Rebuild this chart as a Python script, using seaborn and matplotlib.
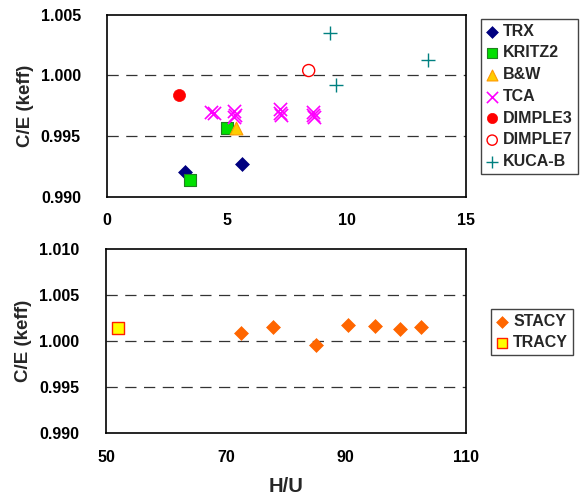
import matplotlib
matplotlib.use("Agg")
import matplotlib.pyplot as plt
import seaborn as sns

# ---- data ----
trx_x = [3.26, 5.61]
trx_y = [0.9920, 0.9927]
kritz2_x = [3.44, 5.00]
kritz2_y = [0.9914, 0.9957]
bw_x = [5.36]
bw_y = [0.9957]
tca_x = [4.35, 4.45, 5.30, 5.30, 5.35, 7.20, 7.20, 7.25, 8.60, 8.60, 8.65]
tca_y = [0.9970, 0.9969, 0.9971, 0.9966, 0.9967, 0.9972, 0.9969, 0.9967, 0.9970, 0.9967, 0.9966]
dimple3_x = [2.98]
dimple3_y = [0.9984]
dimple7_x = [8.41]
dimple7_y = [1.0004]
kuca_x = [9.29, 9.55, 13.40]
kuca_y = [1.0035, 0.9992, 1.0013]

stacy_x = [72.5, 77.9, 85.0, 90.3, 94.9, 99.0, 102.5]
stacy_y = [1.0009, 1.0015, 0.9996, 1.0018, 1.0016, 1.0013, 1.0015]
tracy_x = [52.0]
tracy_y = [1.0014]

top_xticks = [0, 5, 10, 15]
top_yticks = [0.990, 0.995, 1.000, 1.005]
bot_xticks = [50, 70, 90, 110]
bot_yticks = [0.990, 0.995, 1.000, 1.005, 1.010]

sns.set_style("white")
plt.rcParams["font.family"] = ["Liberation Sans", "DejaVu Sans"]
plt.rcParams["font.weight"] = "bold"

fig = plt.figure(figsize=(5.81, 4.99), dpi=100)
ax1 = fig.add_axes([0.1847, 0.6058, 0.6182, 0.3647])
ax2 = fig.add_axes([0.1824, 0.1323, 0.6190, 0.3681])

# ---- top panel ----
sns.scatterplot(x=trx_x, y=trx_y, marker="D", s=50, color="#000080", edgecolor="#000080",
                linewidth=0.5, label="TRX", ax=ax1, zorder=3)
sns.scatterplot(x=kritz2_x, y=kritz2_y, marker="s", s=75, color="#00E000", edgecolor="#208020",
                linewidth=0.8, label="KRITZ2", ax=ax1, zorder=3)
sns.scatterplot(x=bw_x, y=bw_y, marker="^", s=85, color="#FFCC00", edgecolor="#FF9900",
                linewidth=0.8, label="B&W", ax=ax1, zorder=3)
sns.scatterplot(x=tca_x, y=tca_y, marker="x", s=90, color="#FF00FF",
                linewidth=1.2, label="TCA", ax=ax1, zorder=3)
sns.scatterplot(x=dimple3_x, y=dimple3_y, marker="o", s=75, color="#FF0000", edgecolor="#FF0000",
                linewidth=0.5, label="DIMPLE3", ax=ax1, zorder=3)
sns.scatterplot(x=dimple7_x, y=dimple7_y, marker="o", s=75, color="#FF0000", facecolor="none",
                edgecolor="#FF0000", linewidth=1.0, label="DIMPLE7", ax=ax1, zorder=3)
sns.scatterplot(x=kuca_x, y=kuca_y, marker="+", s=90, color="#008080",
                linewidth=1.0, label="KUCA-B", ax=ax1, zorder=3)

ax1.set_xlim(top_xticks[0], top_xticks[-1])
ax1.set_ylim(top_yticks[0], top_yticks[-1])
ax1.set_xticks(top_xticks)
ax1.set_yticks(top_yticks)
ax1.set_xticklabels([str(t) for t in top_xticks])
ax1.set_yticklabels([f"{t:.3f}" for t in top_yticks])
for t in top_yticks[1:-1]:
    ax1.axhline(t, color="#333333", lw=0.9, ls=(0, (9, 6)), zorder=1)
ax1.set_ylabel("C/E (keff)", fontsize=13.5, fontweight="bold", labelpad=5)
ax1.set_xlabel("")

# ---- bottom panel ----
sns.scatterplot(x=stacy_x, y=stacy_y, marker="D", s=50, color="#FF6600", edgecolor="#FF6600",
                linewidth=0.5, label="STACY", ax=ax2, zorder=3)
sns.scatterplot(x=tracy_x, y=tracy_y, marker="s", s=70, color="#FFFF00", edgecolor="#FF2000",
                linewidth=1.0, label="TRACY", ax=ax2, zorder=3)
ax2.set_xlim(bot_xticks[0], bot_xticks[-1])
ax2.set_ylim(bot_yticks[0], bot_yticks[-1])
ax2.set_xticks(bot_xticks)
ax2.set_yticks(bot_yticks)
ax2.set_xticklabels([str(t) for t in bot_xticks])
ax2.set_yticklabels([f"{t:.3f}" for t in bot_yticks])
for t in bot_yticks[1:-1]:
    ax2.axhline(t, color="#333333", lw=0.9, ls=(0, (9, 6)), zorder=1)
ax2.set_ylabel("C/E (keff)", fontsize=13.5, fontweight="bold", labelpad=5)
ax2.set_xlabel("H/U", fontsize=14.5, fontweight="bold", labelpad=9)

for ax in (ax1, ax2):
    for sp in ax.spines.values():
        sp.set_visible(True)
        sp.set_color("black")
        sp.set_linewidth(1.2)
    ax.tick_params(axis="both", direction="in", length=4, width=0.8, color="#555555",
                   labelsize=11.5, labelcolor="black")
    ax.tick_params(axis="y", pad=19)
    ax.tick_params(axis="x", pad=12)
    for lab in ax.get_xticklabels() + ax.get_yticklabels():
        lab.set_fontweight("bold")

leg_kw = dict(frameon=True, fancybox=False, framealpha=1, edgecolor="#444444",
              prop={"weight": "bold", "size": 11.5}, handlelength=0.8, handletextpad=0.3,
              borderpad=0.3, borderaxespad=0, labelspacing=0.42, loc="upper left",
              bbox_transform=fig.transFigure, markerscale=0.85)
l1 = ax1.legend(bbox_to_anchor=(481 / 581, 1 - 19 / 499), **leg_kw)
l2 = ax2.legend(bbox_to_anchor=(491 / 581, 1 - 309 / 499), **leg_kw)
for l in (l1, l2):
    l.get_frame().set_linewidth(1.0)

fig.savefig("out.png", dpi=100)
